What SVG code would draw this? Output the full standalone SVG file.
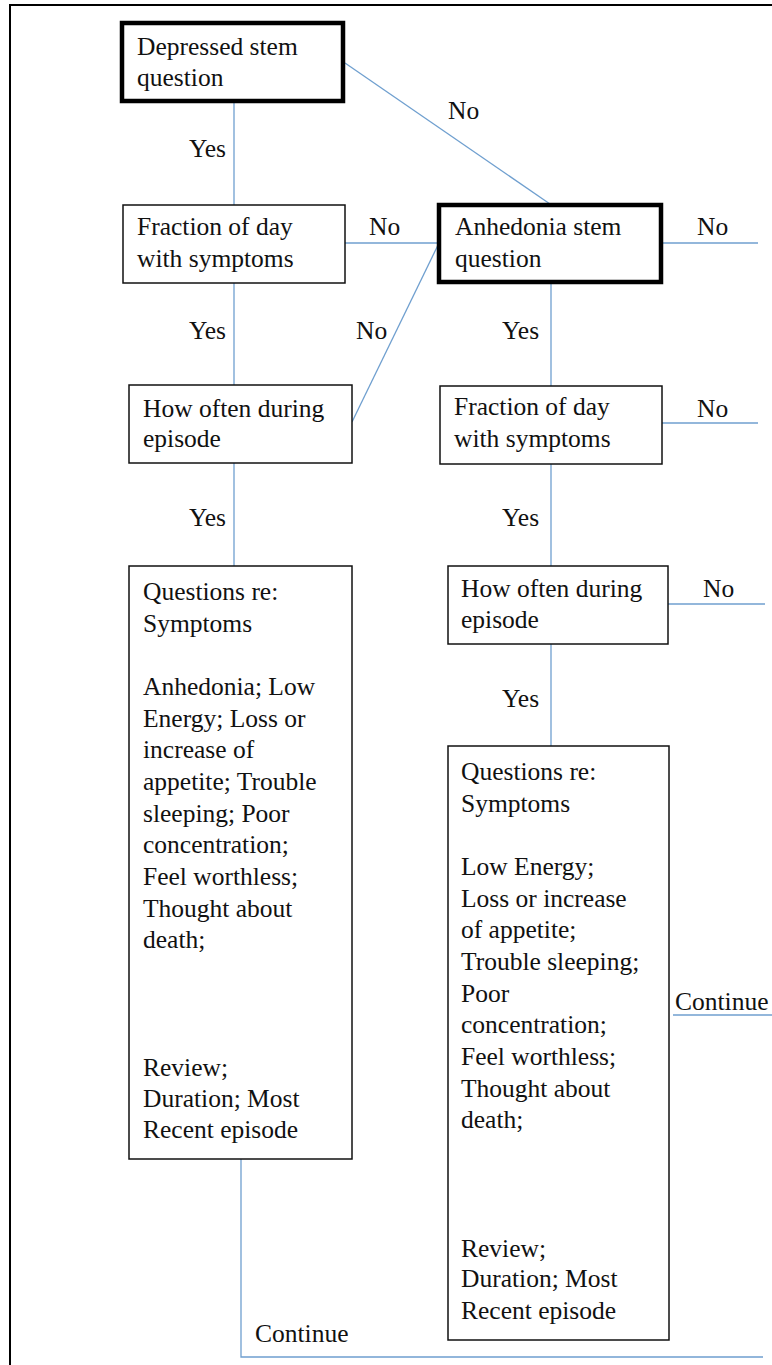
<svg xmlns="http://www.w3.org/2000/svg" width="772" height="1365" viewBox="0 0 772 1365">
<style>
text{font-size:25.5px;fill:#111}
.box{fill:#fff;stroke:#111;stroke-width:1.5}
.thick{fill:#fff;stroke:#000;stroke-width:4.5}
.conn{fill:none;stroke:#6f9fcf;stroke-width:1.3}
</style>
<rect x="10" y="5" width="800" height="1400" fill="#fff" stroke="#000" stroke-width="2"/>
<g font-family="Liberation Serif, DejaVu Serif, serif">
<g id="connectors">
<line class="conn" x1="234" y1="102" x2="234" y2="205"/>
<line class="conn" x1="345" y1="63" x2="550" y2="204"/>
<line class="conn" x1="345" y1="243" x2="438" y2="243"/>
<line class="conn" x1="234" y1="283" x2="234" y2="385"/>
<line class="conn" x1="352" y1="422" x2="439" y2="243"/>
<line class="conn" x1="234" y1="463" x2="234" y2="566"/>
<line class="conn" x1="662" y1="243" x2="758" y2="243"/>
<line class="conn" x1="551" y1="284" x2="551" y2="386"/>
<line class="conn" x1="662" y1="423" x2="758" y2="423"/>
<line class="conn" x1="551" y1="464" x2="551" y2="566"/>
<line class="conn" x1="668" y1="604" x2="765" y2="604"/>
<line class="conn" x1="551" y1="644" x2="551" y2="746"/>
<line class="conn" x1="673" y1="1015" x2="772" y2="1015"/>
<polyline class="conn" points="241,1159 241,1357 763,1357"/>
<text x="226" y="157" text-anchor="end">Yes</text>
<text x="448" y="119">No</text>
<text x="369" y="235">No</text>
<text x="697" y="235">No</text>
<text x="356" y="339">No</text>
<text x="226" y="339" text-anchor="end">Yes</text>
<text x="502" y="339">Yes</text>
<text x="697" y="417">No</text>
<text x="226" y="526" text-anchor="end">Yes</text>
<text x="502" y="526">Yes</text>
<text x="703" y="597">No</text>
<text x="502" y="707">Yes</text>
<text x="675" y="1010">Continue</text>
<text x="255" y="1342">Continue</text>
</g>
<g id="depressed-stem">
<rect class="thick" x="122" y="23" width="221" height="78"/>
<text x="137" y="55">Depressed stem</text>
<text x="137" y="86">question</text>
</g>
<g id="fraction-left">
<rect class="box" x="123" y="205" width="222" height="78"/>
<text x="137" y="235">Fraction of day</text>
<text x="137" y="267">with symptoms</text>
</g>
<g id="anhedonia-stem">
<rect class="thick" x="439" y="205" width="222" height="77"/>
<text x="455" y="235">Anhedonia stem</text>
<text x="455" y="267">question</text>
</g>
<g id="howoften-left">
<rect class="box" x="129" y="385" width="223" height="78"/>
<text x="143" y="417">How often during</text>
<text x="143" y="447">episode</text>
</g>
<g id="fraction-right">
<rect class="box" x="440" y="386" width="222" height="78"/>
<text x="454" y="415">Fraction of day</text>
<text x="454" y="447">with symptoms</text>
</g>
<g id="howoften-right">
<rect class="box" x="448" y="566" width="220" height="78"/>
<text x="461" y="597">How often during</text>
<text x="461" y="628">episode</text>
</g>
<g id="questions-left">
<rect class="box" x="129" y="566" width="223" height="593"/>
<text x="143" y="600">Questions re:</text>
<text x="143" y="631.7">Symptoms</text>
<text x="143" y="695">Anhedonia; Low</text>
<text x="143" y="727">Energy; Loss or</text>
<text x="143" y="758">increase of</text>
<text x="143" y="790">appetite; Trouble</text>
<text x="143" y="822">sleeping; Poor</text>
<text x="143" y="853">concentration;</text>
<text x="143" y="885">Feel worthless;</text>
<text x="143" y="917">Thought about</text>
<text x="143" y="948">death;</text>
<text x="143" y="1076">Review;</text>
<text x="143" y="1107">Duration; Most</text>
<text x="143" y="1138">Recent episode</text>
</g>
<g id="questions-right">
<rect class="box" x="448" y="746" width="221" height="594"/>
<text x="461" y="780">Questions re:</text>
<text x="461" y="811.7">Symptoms</text>
<text x="461" y="875">Low Energy;</text>
<text x="461" y="907">Loss or increase</text>
<text x="461" y="938">of appetite;</text>
<text x="461" y="970">Trouble sleeping;</text>
<text x="461" y="1002">Poor</text>
<text x="461" y="1033">concentration;</text>
<text x="461" y="1065">Feel worthless;</text>
<text x="461" y="1097">Thought about</text>
<text x="461" y="1128">death;</text>
<text x="461" y="1257">Review;</text>
<text x="461" y="1287">Duration; Most</text>
<text x="461" y="1319">Recent episode</text>
</g>
</g>
</svg>
